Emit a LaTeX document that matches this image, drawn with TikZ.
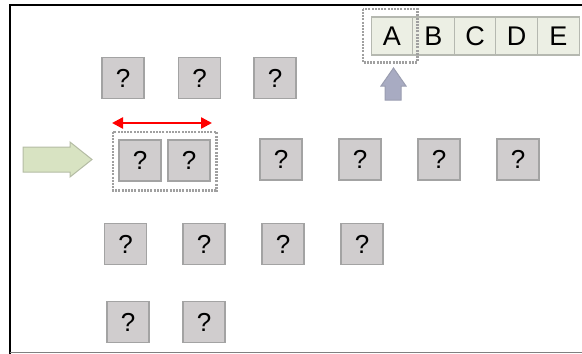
\documentclass[tikz,border=0pt]{standalone}
\usepackage{fontspec}
\setmainfont{Liberation Sans}
\usetikzlibrary{arrows.meta,fit}
\definecolor{qfill}{HTML}{D0CDCE}
\definecolor{qdraw}{HTML}{A3A3A3}
\definecolor{lfill}{HTML}{ECEFE4}
\definecolor{ldraw}{HTML}{B5B8B0}
\definecolor{gfill}{HTML}{D8E3C2}
\definecolor{gdraw}{HTML}{B4BCA4}
\definecolor{bfill}{HTML}{A8ABC2}
\definecolor{bdraw}{HTML}{9A9DB0}
\definecolor{dashgray}{HTML}{A0A0A0}
\tikzset{
  qbox/.style={draw=qdraw, fill=qfill, line width=1.2pt, minimum width=42pt, minimum height=41pt, inner sep=0pt, font=\fontsize{26}{26}\selectfont},
  lbox/.style={draw=ldraw, fill=lfill, line width=1.2pt, minimum width=41.5pt, minimum height=38pt, inner sep=0pt, font=\fontsize{27}{27}\selectfont},
  grpbox/.style={inner sep=0pt},
  grpline/.style={draw=dashgray, line width=2.6pt, dash pattern=on 2pt off 1.2pt},
}
\begin{document}
\begin{tikzpicture}[x=1pt,y=-1pt]
\useasboundingbox (0,0) rectangle (582,354);
% frame
\draw[line width=2pt] (582,5) -- (9.5,5) -- (9.5,354);
\draw[gray, line width=1.2pt] (9.5,352.5) -- (582,352.5);
% row 1
\node[qbox] (r1a) at (123,78) {?};
\node[qbox] (r1b) at (199.5,78) {?};
\node[qbox] (r1c) at (275,78) {?};
% row 2
\node[qbox] (r2a) at (140,160.5) {?};
\node[qbox] (r2b) at (189,160.5) {?};
\node[qbox] (r2c) at (281,159.5) {?};
\node[qbox] (r2d) at (360,159.5) {?};
\node[qbox] (r2e) at (439,159.5) {?};
\node[qbox] (r2f) at (518,159.5) {?};
% row 3
\node[qbox] (r3a) at (125.5,244) {?};
\node[qbox] (r3b) at (204,244) {?};
\node[qbox] (r3c) at (283,244) {?};
\node[qbox] (r3d) at (362,244) {?};
% row 4
\node[qbox] (r4a) at (128,322) {?};
\node[qbox] (r4b) at (204,322) {?};
% letters
\node[lbox] (la) at (392,36) {A};
\node[lbox] (lb) at (433.5,36) {B};
\node[lbox] (lc) at (475,36) {C};
\node[lbox] (ld) at (516.5,36) {D};
\node[lbox] (le) at (558.5,36) {E};
% dashed groups
\node[grpbox, fit={(113,132) (216,190)}] (grp) {};
\node[grpbox, fit={(363,9) (417,62)}] (agrp) {};
\draw[grpline] (grp.north west) rectangle (grp.south east);
\draw[grpline] (agrp.north west) rectangle (agrp.south east);
% red double arrow
\coordinate (ra) at (112,123);
\coordinate (rb) at (212,123);
\draw[red, line width=2.5pt, {Triangle[length=11pt,width=11pt]}-{Triangle[length=11pt,width=11pt]}] (ra) -- (rb);
% green arrow
\draw[draw=gdraw, fill=gfill, line width=1pt] (23,147) -- (70,147) -- (70,142) -- (92,159.5) -- (70,177) -- (70,172) -- (23,172) -- cycle;
% blue-grey up arrow
\draw[draw=bdraw, fill=bfill, line width=1pt] (385,100) -- (385,86) -- (381,86) -- (393.5,68) -- (406,86) -- (401,86) -- (401,100) -- cycle;
\end{tikzpicture}
\end{document}
